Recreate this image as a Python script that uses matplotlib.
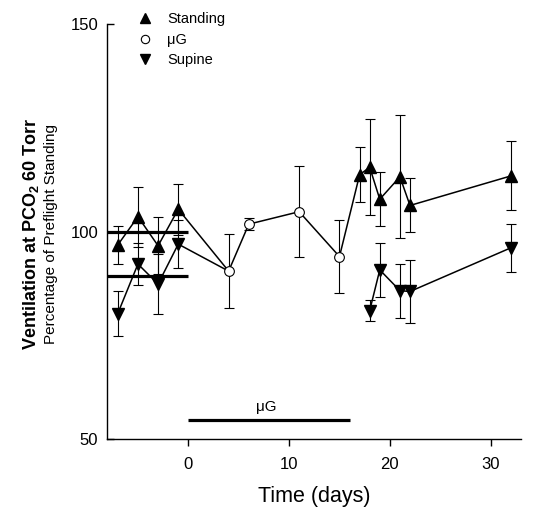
import matplotlib
matplotlib.use("Agg")
import matplotlib.pyplot as plt
from matplotlib.lines import Line2D
import numpy as np

plt.rcParams['font.family'] = ['Liberation Sans', 'DejaVu Sans']
plt.rcParams['mathtext.fontset'] = 'custom'
plt.rcParams['mathtext.rm'] = 'Liberation Sans'
plt.rcParams['mathtext.bf'] = 'Liberation Sans:bold'

# ---- data ----
stand_pre_day = [-7, -5, -3, -1]
stand_pre_val = [96.8, 103.6, 96.6, 105.4]
stand_pre_err = [4.5, 7.2, 6.9, 6.1]

supine_pre_day = [-7, -5, -3, -1]
supine_pre_val = [80.3, 92.2, 87.4, 97.0]
supine_pre_err = [5.3, 5.0, 7.2, 5.8]

ug_day = [4, 6, 11, 15]
ug_val = [90.5, 101.8, 104.8, 94.0]
ug_err = [8.9, 1.5, 10.9, 8.7]

stand_post_day = [17, 18, 19, 21, 22, 32]
stand_post_val = [113.7, 115.5, 107.8, 113.2, 106.3, 113.4]
stand_post_err = [6.6, 11.6, 6.5, 14.8, 6.5, 8.3]

supine_post_day = [18, 19, 21, 22, 32]
supine_post_val = [81.0, 90.8, 85.8, 85.6, 96.1]
supine_post_err = [2.5, 6.5, 6.5, 7.5, 5.8]

preflight_stand_mean = 100
preflight_supine_mean = 89.4
flight_start, flight_end = 0, 16
x_ticks = [0, 10, 20, 30]
y_ticks = [50, 100, 150]

fig = plt.figure(figsize=(5.5, 5.08), dpi=100)
ax = fig.add_axes([0.194, 0.135, 0.753, 0.818])

lw = 1.1
ebkw = dict(fmt='none', ecolor='black', elinewidth=0.8, capsize=3.5, capthick=0.8, zorder=2)

# connecting lines
ax.plot(stand_pre_day + ug_day[:1], stand_pre_val + ug_val[:1], color='black', lw=lw, zorder=3)
ax.plot(supine_pre_day + ug_day[:1], supine_pre_val + ug_val[:1], color='black', lw=lw, zorder=3)
ax.plot(ug_day + stand_post_day[:1], ug_val + stand_post_val[:1], color='black', lw=lw, zorder=3)
ax.plot(stand_post_day, stand_post_val, color='black', lw=lw, zorder=3)
ax.plot(supine_post_day, supine_post_val, color='black', lw=lw, zorder=3)

# error bars
for d, v, e in [(stand_pre_day, stand_pre_val, stand_pre_err),
                (supine_pre_day, supine_pre_val, supine_pre_err),
                (ug_day, ug_val, ug_err),
                (stand_post_day, stand_post_val, stand_post_err),
                (supine_post_day, supine_post_val, supine_post_err)]:
    ax.errorbar(d, v, yerr=e, **ebkw)

ms = 8
ax.plot(stand_pre_day, stand_pre_val, '^', color='black', ms=ms, ls='none', zorder=4)
ax.plot(stand_post_day, stand_post_val, '^', color='black', ms=ms, ls='none', zorder=4)
ax.plot(supine_pre_day, supine_pre_val, 'v', color='black', ms=ms, ls='none', zorder=4)
ax.plot(supine_post_day, supine_post_val, 'v', color='black', ms=ms, ls='none', zorder=4)
ax.plot(ug_day, ug_val, 'o', mfc='white', mec='black', mew=0.8, ms=7, ls='none', zorder=4)

# preflight mean bars
xmin, xmax = -8.1, 33.0
ax.plot([xmin, 0], [preflight_stand_mean] * 2, color='black', lw=2.3, zorder=3, solid_capstyle='butt')
ax.plot([xmin, 0], [preflight_supine_mean] * 2, color='black', lw=2.3, zorder=3, solid_capstyle='butt')

# flight bar
ax.plot([flight_start, flight_end], [54.6, 54.6], color='black', lw=2.3, solid_capstyle='butt')
ax.text((flight_start + flight_end) / 2 - 0.3, 56.2, 'μG', ha='center', va='bottom', fontsize=11)

ax.set_xlim(xmin, xmax)
ax.set_ylim(50, 150)
ax.set_xticks(x_ticks)
ax.set_yticks(y_ticks)
ax.tick_params(axis='x', direction='out', length=5, width=1, labelsize=12, pad=8)
ax.tick_params(axis='y', direction='in', length=5, width=1, labelsize=12, pad=6)
for s in ['top', 'right']:
    ax.spines[s].set_visible(False)
for s in ['left', 'bottom']:
    ax.spines[s].set_linewidth(1.0)

ax.set_xlabel('Time (days)', fontsize=15.5)
ax.xaxis.set_label_coords(0.5, -0.113)

fig.text(0.056, 0.54, r'Ventilation at PCO$_\mathbf{2}$ 60 Torr', rotation=90,
         ha='center', va='center', fontsize=13, fontweight='bold')
fig.text(0.092, 0.54, 'Percentage of Preflight Standing', rotation=90,
         ha='center', va='center', fontsize=11)

handles = [Line2D([], [], marker='^', color='black', ls='none', ms=7),
           Line2D([], [], marker='o', mfc='white', mec='black', mew=0.8, ls='none', ms=6),
           Line2D([], [], marker='v', color='black', ls='none', ms=7)]
fig.legend(handles, ['Standing', 'μG', 'Supine'], loc='upper left',
           bbox_to_anchor=(0.222, 0.993), frameon=False, fontsize=10.5,
           handletextpad=0.5, labelspacing=0.45, borderaxespad=0.2)

fig.savefig('out.png', dpi=100)
